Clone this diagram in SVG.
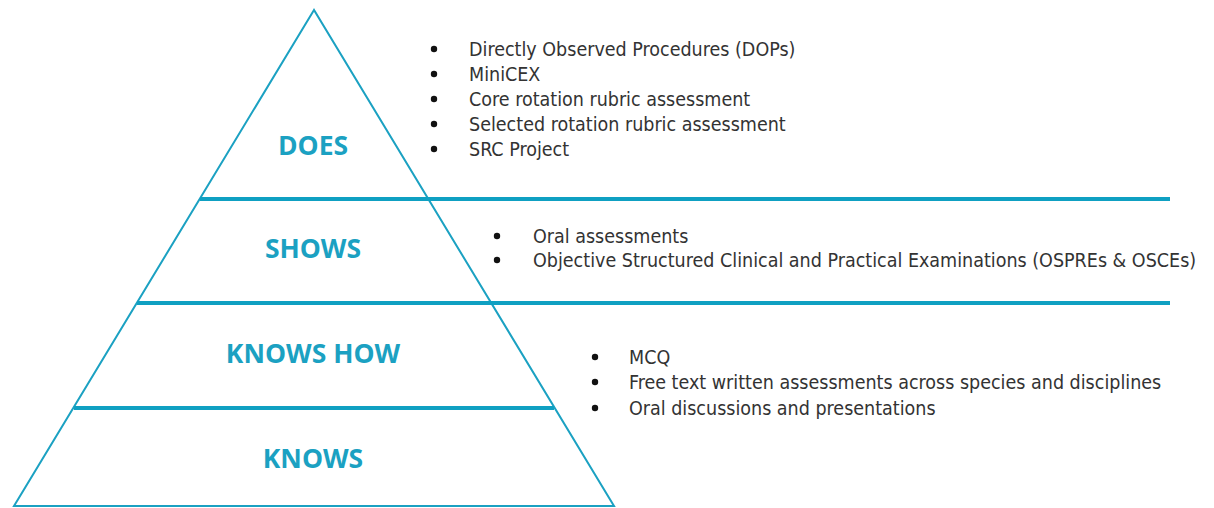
<svg xmlns="http://www.w3.org/2000/svg" width="1214" height="508" viewBox="0 0 1214 508">
  <style>
    .edge { fill: none; stroke: #1ba1c2; stroke-width: 2; stroke-linejoin: miter; }
    .band { stroke: #0fa0c2; stroke-width: 4; }
    .level { font-family: "Open Sans", sans-serif; font-weight: bold; font-size: 26.5px; fill: #1ba1c2; text-anchor: middle; }
    .item { font-family: "DejaVu Sans Condensed", "DejaVu Sans", sans-serif; font-stretch: condensed; font-size: 19.5px; fill: #333333; }
    .dot { fill: #111111; }
  </style>
  <rect width="1214" height="508" fill="#ffffff"/>

  <!-- pyramid outline -->
  <g id="pyramid">
    <polygon class="edge" points="314,10 14,506 614,506"/>
  </g>

  <!-- tier dividers -->
  <g id="connectors">
    <line class="band" x1="200" y1="199" x2="1170" y2="199"/>
    <line class="band" x1="137" y1="303" x2="1170" y2="303"/>
    <line class="band" x1="74" y1="408" x2="554" y2="408"/>
  </g>

  <g id="does">
    <text class="level" x="313" y="155">DOES</text>
    <g class="dot">
      <circle cx="434" cy="49" r="3.2"/>
      <circle cx="434" cy="74" r="3.2"/>
      <circle cx="434" cy="99" r="3.2"/>
      <circle cx="434" cy="124" r="3.2"/>
      <circle cx="434" cy="149" r="3.2"/>
    </g>
    <text class="item" x="469" y="56">Directly Observed Procedures (DOPs)</text>
    <text class="item" x="469" y="81">MiniCEX</text>
    <text class="item" x="469" y="106">Core rotation rubric assessment</text>
    <text class="item" x="469" y="131">Selected rotation rubric assessment</text>
    <text class="item" x="469" y="156">SRC Project</text>
  </g>

  <g id="shows">
    <text class="level" x="313" y="258">SHOWS</text>
    <g class="dot">
      <circle cx="497" cy="236" r="3.2"/>
      <circle cx="497" cy="260" r="3.2"/>
    </g>
    <text class="item" x="533" y="243">Oral assessments</text>
    <text class="item" x="533" y="267">Objective Structured Clinical and Practical Examinations (OSPREs &amp; OSCEs)</text>
  </g>

  <g id="knows-how">
    <text class="level" x="313" y="363">KNOWS HOW</text>
    <g class="dot">
      <circle cx="595" cy="357" r="3.2"/>
      <circle cx="595" cy="382" r="3.2"/>
      <circle cx="595" cy="408" r="3.2"/>
    </g>
    <text class="item" x="629" y="364">MCQ</text>
    <text class="item" x="629" y="389">Free text written assessments across species and disciplines</text>
    <text class="item" x="629" y="415">Oral discussions and presentations</text>
  </g>

  <g id="knows">
    <text class="level" x="313" y="468">KNOWS</text>
  </g>
</svg>
